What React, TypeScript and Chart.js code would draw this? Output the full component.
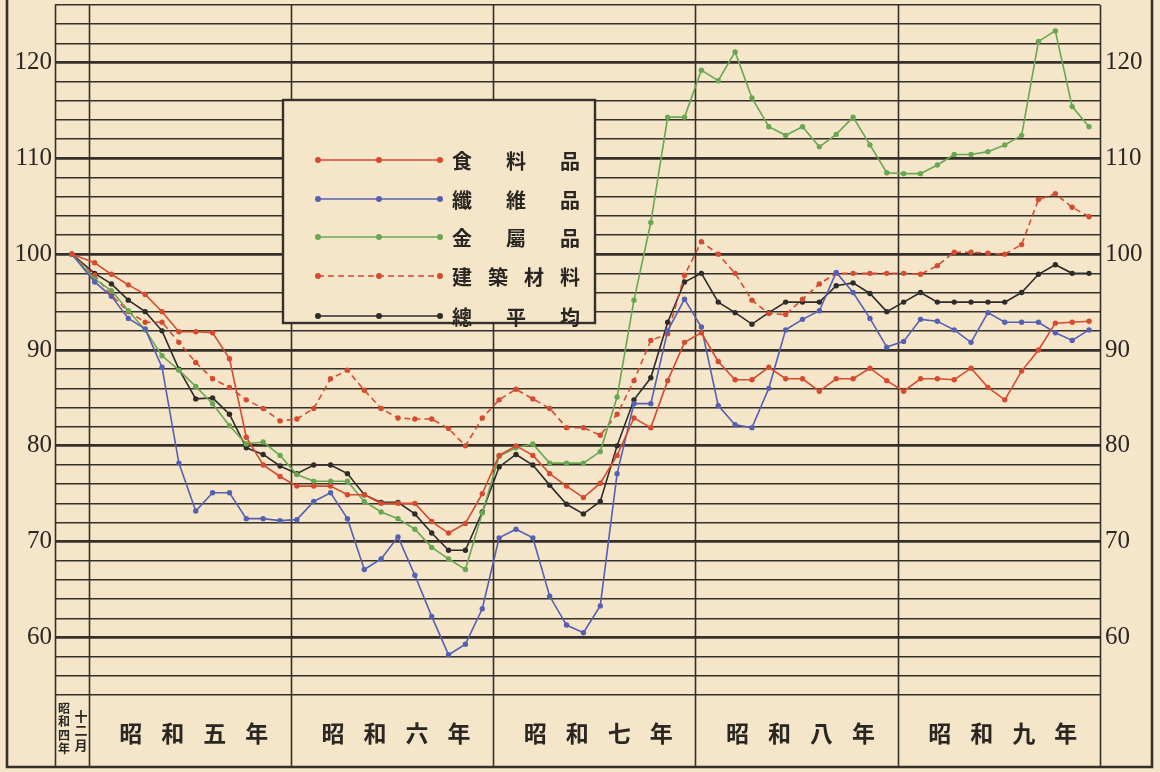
import React, { useEffect, useRef } from "react";
import { Chart, registerables } from "chart.js";

Chart.register(...registerables);

// ---- data ----
const baseLabel = "昭和四年十二月";
const yearLabels = ["昭和五年", "昭和六年", "昭和七年", "昭和八年", "昭和九年"];
const seriesNames = ["食料品", "纖維品", "金屬品", "建築材料", "總平均"];
const yTickValues = [60, 70, 80, 90, 100, 110, 120];

// base (Dec 1929) then Jan 1930 ... Dec 1934
const food = [
  100,
  99.1, 97.9, 96.8, 95.8, 94.0, 91.9, 91.9, 91.8, 89.1, 80.9, 78.0, 76.8,
  75.8, 75.8, 75.8, 74.9, 74.9, 74.0, 74.0, 74.0, 72.1, 70.9, 71.9, 75.0,
  79.0, 80.0, 79.0, 77.1, 75.8, 74.6, 76.1, 79.0, 82.9, 81.9, 86.8, 90.8,
  91.8, 88.8, 86.9, 86.9, 88.2, 87.0, 87.0, 85.7, 87.0, 87.0, 88.1, 86.8,
  85.7, 87.0, 87.0, 86.9, 88.1, 86.1, 84.8, 87.8, 90.0, 92.8, 92.9, 93.0,
];
const textiles = [
  100,
  97.1, 95.6, 93.3, 92.2, 88.2, 78.2, 73.2, 75.1, 75.1, 72.4, 72.4, 72.2,
  72.3, 74.2, 75.1, 72.4, 67.1, 68.2, 70.5, 66.5, 62.2, 58.2, 59.3, 63.0,
  70.4, 71.3, 70.4, 64.3, 61.3, 60.5, 63.3, 77.1, 84.4, 84.4, 92.0, 95.3,
  92.4, 84.2, 82.2, 81.9, 86.0, 92.1, 93.2, 94.1, 98.1, 96.0, 93.3, 90.3,
  90.9, 93.2, 93.0, 92.1, 90.8, 93.9, 92.9, 92.9, 92.9, 91.8, 91.0, 92.1,
];
const metals = [
  100,
  97.4, 96.2, 94.1, 92.1, 89.4, 87.9, 86.2, 84.4, 82.1, 80.2, 80.4, 79.0,
  77.0, 76.3, 76.3, 76.3, 74.2, 73.1, 72.4, 71.3, 69.4, 68.2, 67.1, 73.0,
  78.9, 79.8, 80.2, 78.2, 78.2, 78.2, 79.4, 85.1, 95.2, 103.3, 114.3, 114.3,
  119.2, 118.1, 121.1, 116.3, 113.3, 112.4, 113.3, 111.2, 112.5, 114.3, 111.4, 108.5,
  108.4, 108.4, 109.3, 110.4, 110.4, 110.7, 111.4, 112.4, 122.2, 123.3, 115.4, 113.3,
];
const building = [
  100,
  97.8, 95.7, 94.0, 92.9, 92.9, 90.8, 88.7, 87.0, 86.1, 84.8, 83.9, 82.6,
  82.8, 83.9, 87.0, 87.9, 85.8, 83.9, 82.9, 82.8, 82.8, 81.8, 80.0, 82.9,
  84.8, 85.9, 84.9, 83.9, 81.9, 81.9, 81.1, 83.3, 86.8, 91.0, 91.7, 97.8,
  101.3, 100.0, 98.0, 95.2, 93.8, 93.7, 95.3, 96.9, 98.0, 98.0, 98.0, 98.0,
  98.0, 97.9, 98.8, 100.2, 100.2, 100.1, 100.0, 101.0, 105.7, 106.3, 104.9, 103.9,
];
const average = [
  100,
  98.0, 96.9, 95.2, 94.0, 92.0, 88.0, 84.9, 85.0, 83.3, 79.8, 79.1, 77.9,
  77.1, 78.0, 78.0, 77.1, 74.9, 74.1, 74.1, 72.9, 70.9, 69.1, 69.1, 73.1,
  77.8, 79.1, 78.0, 75.9, 73.9, 72.9, 74.2, 80.0, 84.8, 87.1, 92.9, 97.1,
  98.0, 95.0, 93.9, 92.7, 93.9, 95.0, 95.0, 95.0, 96.7, 97.0, 95.9, 94.0,
  95.0, 96.0, 95.0, 95.0, 95.0, 95.0, 95.0, 96.0, 97.9, 98.9, 98.0, 98.0,
];

const seriesValues = [food, textiles, metals, building, average];

// ---- styles ----
const BG = "#f5e6ca";
const INK = "#35302a";
const COLORS = ["#d64a30", "#5560b2", "#68a851", "#d64a30", "#2e2c2a"];
const DASHES: number[][] = [[], [], [], [6, 4], []];
const CJK = '"Noto Sans CJK JP", "Noto Sans CJK TC", sans-serif';
const SERIF = '"Liberation Serif", "DejaVu Serif", serif';

// month index -> x value on a month-based linear axis (year boundaries at multiples of 12)
const toPoints = (vals: number[]) =>
  vals.map((v, i) => ({ x: i === 0 ? -1 : i - 0.65, y: v }));

const decorPlugin = {
  id: "decor",
  beforeDraw(chart: any) {
    const { ctx, width, height } = chart;
    ctx.save();
    ctx.fillStyle = BG;
    ctx.fillRect(0, 0, width, height);
    ctx.restore();
  },
  beforeDatasetsDraw(chart: any) {
    const { ctx, chartArea, scales } = chart;
    const xs = scales.x;
    const frameBottom = 767;
    ctx.save();
    ctx.strokeStyle = INK;
    // vertical year separators
    const bounds = [xs.min, ...yearLabels.map((_, i) => i * 12), xs.max];
    bounds.forEach((b) => {
      const px = Math.round(xs.getPixelForValue(b)) + 0.5;
      ctx.lineWidth = 1.6;
      ctx.beginPath();
      ctx.moveTo(px, chartArea.top);
      ctx.lineTo(px, frameBottom);
      ctx.stroke();
    });
    // legend box
    const bx = 283, by = 100, bw = 312, bh = 223;
    ctx.fillStyle = BG;
    ctx.fillRect(bx, by, bw, bh);
    ctx.lineWidth = 2.4;
    ctx.strokeRect(bx, by, bw, bh);
    const rows = [160, 199, 237, 276, 316];
    seriesNames.forEach((name, k) => {
      const y = rows[k];
      ctx.strokeStyle = COLORS[k];
      ctx.fillStyle = COLORS[k];
      ctx.lineWidth = 1.6;
      ctx.setLineDash(DASHES[k]);
      ctx.beginPath();
      ctx.moveTo(318, y);
      ctx.lineTo(440, y);
      ctx.stroke();
      ctx.setLineDash([]);
      [318, 379, 440].forEach((dx) => {
        ctx.beginPath();
        ctx.arc(dx, y, 3, 0, Math.PI * 2);
        ctx.fill();
      });
      const chars = Array.from(name);
      ctx.fillStyle = "#2a2622";
      ctx.font = `bold 20px ${CJK}`;
      ctx.textAlign = "center";
      ctx.textBaseline = "middle";
      chars.forEach((c, j) => {
        const cx = 462 + (j * 108) / (chars.length - 1);
        ctx.fillText(c, cx, y + 1);
      });
    });
    ctx.restore();
  },
  afterDraw(chart: any) {
    const { ctx, scales, chartArea } = chart;
    const xs = scales.x;
    ctx.save();
    ctx.strokeStyle = INK;
    ctx.lineWidth = 2.6;
    ctx.beginPath();
    ctx.moveTo(7, 0);
    ctx.lineTo(7, 767);
    ctx.lineTo(1152, 767);
    ctx.lineTo(1152, 0);
    ctx.stroke();
    ctx.fillStyle = "#2a2622";
    ctx.textAlign = "center";
    ctx.textBaseline = "middle";
    // year labels under each year block (spaced characters)
    ctx.font = `bold 23px ${CJK}`;
    const labelY = (chartArea.bottom + 767) / 2 + 2;
    yearLabels.forEach((lab, i) => {
      const cx = (xs.getPixelForValue(i * 12) + xs.getPixelForValue(i * 12 + 12)) / 2 + 4;
      const chars = Array.from(lab);
      chars.forEach((c, j) => {
        ctx.fillText(c, cx + (j - (chars.length - 1) / 2) * 42, labelY);
      });
    });
    // base month label (vertical text)
    ctx.font = `bold 12px ${CJK}`;
    Array.from(baseLabel.slice(0, 4)).forEach((c, j) => {
      ctx.fillText(c, 64, 708 + j * 13.5);
    });
    ctx.font = `bold 13px ${CJK}`;
    Array.from(baseLabel.slice(4)).forEach((c, j) => {
      ctx.fillText(c, 81, 716 + j * 14.5);
    });
    ctx.restore();
  },
};

export default function App() {
  const canvasRef = useRef<HTMLCanvasElement | null>(null);

  useEffect(() => {
    document.body.style.margin = "0";
    const canvas = canvasRef.current;
    if (!canvas) return;
    const gridWidth = (ctx: any) => {
      const v = ctx.tick ? ctx.tick.value : 0;
      return v % 10 === 0 ? 2.8 : 1.4;
    };
    const yTickCb = (value: any) =>
      yTickValues.includes(Number(value)) ? String(value) : "";
    const fitY = (w: number) => (scale: any) => {
      scale.width = w;
      scale.paddingTop = 0;
      scale.paddingBottom = 0;
    };

    const chart = new Chart(canvas, {
      type: "line",
      data: {
        datasets: seriesNames.map((name, k) => ({
          label: name,
          data: toPoints(seriesValues[k]),
          borderColor: COLORS[k],
          backgroundColor: COLORS[k],
          borderWidth: 1.6,
          borderDash: DASHES[k],
          pointRadius: 2.7,
          pointBorderWidth: 0,
          pointBackgroundColor: COLORS[k],
          tension: 0,
          fill: false,
        })),
      },
      plugins: [decorPlugin],
      options: {
        animation: false,
        responsive: false,
        devicePixelRatio: 1,
        layout: { padding: { left: 8, right: 8, top: 5, bottom: 5 } },
        plugins: {
          legend: { display: false },
          tooltip: { enabled: false },
        },
        scales: {
          x: {
            type: "linear",
            min: -2,
            max: 60,
            grid: { display: false },
            border: { display: false },
            afterFit: (scale: any) => {
              scale.height = 72;
              scale.paddingLeft = 0;
              scale.paddingRight = 0;
            },
            ticks: { display: false },
          },
          y: {
            type: "linear",
            position: "left",
            min: 54,
            max: 126,
            afterFit: fitY(47),
            grid: {
              color: INK,
              lineWidth: gridWidth,
              drawTicks: false,
            },
            border: { display: false },
            ticks: {
              stepSize: 2,
              autoSkip: false,
              padding: 3,
              color: "#2a2622",
              font: { family: SERIF, size: 25 },
              callback: yTickCb,
            },
          },
          y2: {
            type: "linear",
            position: "right",
            min: 54,
            max: 126,
            afterFit: fitY(52),
            grid: { display: false, drawTicks: false },
            border: { display: false },
            ticks: {
              stepSize: 2,
              autoSkip: false,
              padding: 5,
              color: "#2a2622",
              font: { family: SERIF, size: 25 },
              callback: yTickCb,
            },
          },
        },
      } as any,
    });
    return () => chart.destroy();
  }, []);

  return (
    <div
      style={{
        position: "absolute",
        left: 0,
        top: 0,
        width: 1160,
        height: 772,
        background: BG,
      }}
    >
      <canvas ref={canvasRef} width={1160} height={772} />
    </div>
  );
}
